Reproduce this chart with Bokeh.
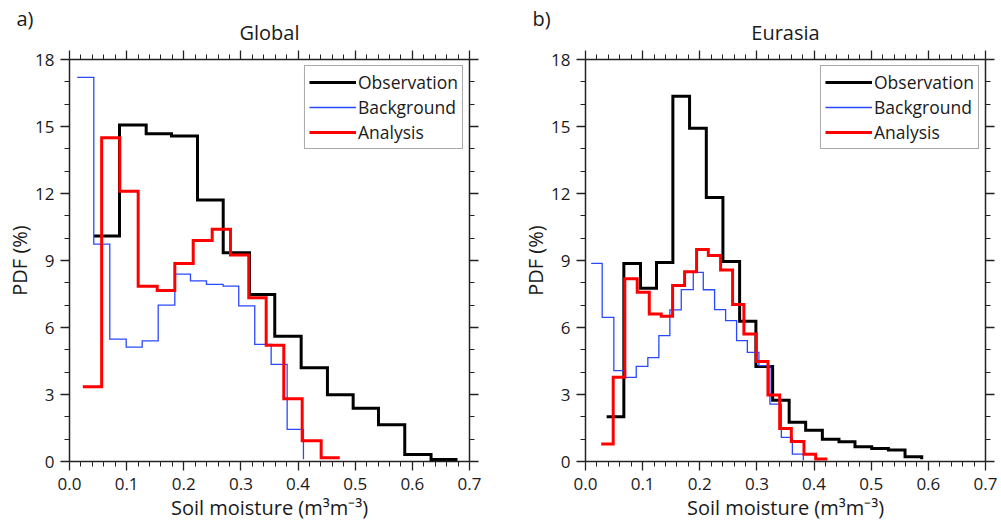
from bokeh.plotting import figure
from bokeh.models import Range1d, LinearAxis, FixedTicker, Legend, LegendItem
from bokeh.layouts import row, column
from bokeh.core.properties import value
from bokeh.embed import file_html
from bokeh.resources import INLINE

# ---------------- data ----------------
x_ticks = [0.0, 0.1, 0.2, 0.3, 0.4, 0.5, 0.6, 0.7]
x_tick_labels = ["0.0", "0.1", "0.2", "0.3", "0.4", "0.5", "0.6", "0.7"]
x_minor = [0.02, 0.04, 0.06, 0.08, 0.12, 0.14, 0.16, 0.18, 0.22, 0.24, 0.26, 0.28,
           0.32, 0.34, 0.36, 0.38, 0.42, 0.44, 0.46, 0.48, 0.52, 0.54, 0.56, 0.58,
           0.62, 0.64, 0.66, 0.68]
y_ticks = [0, 3, 6, 9, 12, 15, 18]
y_tick_labels = ["0", "3", "6", "9", "12", "15", "18"]
y_minor = [1, 2, 4, 5, 7, 8, 10, 11, 13, 14, 16, 17]

series_names = ["Observation", "Background", "Analysis"]
panel_tags = ["a)", "b)"]
panel_titles = ["Global", "Eurasia"]

# Global (bin left edges + final edge, PDF %)
global_obs_x = [0.0425, 0.0875, 0.1342, 0.1785, 0.2240, 0.2690, 0.3150, 0.3592, 0.4054,
                0.4514, 0.4964, 0.5407, 0.5867, 0.6327, 0.6790]
global_obs_y = [10.1, 15.07, 14.68, 14.57, 11.71, 9.35, 7.48, 5.61, 4.2, 2.99, 2.38, 1.65,
                0.31, 0.09, 0.09]
global_bg_x = [0.0135, 0.0425, 0.0705, 0.0992, 0.1272, 0.1552, 0.1843, 0.2117, 0.2397,
               0.2689, 0.2962, 0.3242, 0.3529, 0.3809, 0.4094]
global_bg_y = [17.2, 9.73, 5.48, 5.12, 5.4, 7.0, 8.39, 8.09, 7.93, 7.85, 6.97, 5.24, 4.35,
               1.44, 0.1]
global_an_x = [0.0233, 0.0563, 0.0880, 0.1202, 0.1535, 0.1843, 0.2165, 0.2497, 0.2817,
               0.3137, 0.3442, 0.3750, 0.4072, 0.4404, 0.4730]
global_an_y = [3.35, 14.5, 12.1, 7.85, 7.66, 8.87, 9.9, 10.4, 9.25, 7.33, 5.2, 2.81, 0.93,
               0.17, 0.17]

# Eurasia
eurasia_obs_x = [0.0370, 0.0671, 0.0963, 0.1243, 0.1529, 0.1821, 0.2114, 0.2405, 0.2697,
                 0.2982, 0.3275, 0.3564, 0.3853, 0.4145, 0.4436, 0.4716, 0.5009, 0.5301,
                 0.5592, 0.5884]
eurasia_obs_y = [2.0, 8.87, 7.76, 8.91, 16.35, 14.92, 11.82, 8.96, 6.28, 4.25, 2.74, 1.76,
                 1.4, 1.0, 0.88, 0.66, 0.58, 0.51, 0.21, 0.1]
eurasia_bg_x = [0.0100, 0.0292, 0.0496, 0.0701, 0.0888, 0.1091, 0.1284, 0.1476, 0.1676,
                0.1886, 0.2061, 0.2259, 0.2452, 0.2644, 0.2832, 0.3035, 0.3228, 0.3427,
                0.3620, 0.3812]
eurasia_bg_y = [8.87, 6.45, 4.07, 3.77, 4.26, 4.65, 5.64, 6.79, 7.7, 8.47, 7.69, 6.8, 6.31,
                5.41, 4.89, 4.29, 2.57, 1.08, 0.33, 0.06]
eurasia_an_x = [0.0275, 0.0485, 0.0688, 0.0905, 0.1116, 0.1326, 0.1524, 0.1734, 0.1944,
                0.2149, 0.2364, 0.2574, 0.2772, 0.2989, 0.3193, 0.3398, 0.3602, 0.3823,
                0.4028, 0.4233]
eurasia_an_y = [0.78, 3.77, 8.18, 7.58, 6.61, 6.5, 7.88, 8.5, 9.49, 9.22, 8.57, 7.03, 5.71,
                4.48, 2.98, 1.48, 0.9, 0.33, 0.11, 0.11]

# ---------------- layout / styling ----------------
FONT = "Open Sans"
TXT = "#1a1a1a"
AX = "#222222"
COLORS = ["#000000", "#2a48ff", "#ff0000"]
WIDTHS = [3, 1.3, 3]

STRIP_H = 44          # height of the strip that carries the panel titles
FRAME_W = 400
FRAME_H = 402
BORDER_TOP = 15
BORDER_BOTTOM = 62
PANEL_W = [500, 497]
BORDER_L = [69, 85]
BORDER_R = [31, 12]
TAG_DX = -53          # tag text offset from each frame's left edge (px)

x_over = {t: l for t, l in zip(x_ticks, x_tick_labels)}
y_over = {t: l for t, l in zip(y_ticks, y_tick_labels)}


def style_axis(ax, ticks, minor, overrides, labels=True):
    ax.ticker = FixedTicker(ticks=ticks, minor_ticks=minor)
    ax.axis_line_color = AX
    ax.axis_line_width = 1.5
    ax.major_tick_line_color = AX
    ax.minor_tick_line_color = AX
    ax.major_tick_line_width = 1.3
    ax.minor_tick_line_width = 1.0
    ax.major_tick_in = 0
    ax.major_tick_out = 9
    ax.minor_tick_in = 0
    ax.minor_tick_out = 5
    if labels:
        ax.major_label_overrides = overrides
        ax.major_label_text_font = FONT
        ax.major_label_text_font_size = "17px"
        ax.major_label_text_color = TXT
    else:
        ax.major_label_text_font_size = "1px"
        ax.major_label_text_color = None
        ax.major_label_standoff = 0
        ax.axis_label_standoff = 0


def make_panel(data, width, border_left, border_right):
    p = figure(width=width, height=BORDER_TOP + FRAME_H + BORDER_BOTTOM,
               x_range=Range1d(0, 0.7), y_range=Range1d(0, 18),
               output_backend="svg", toolbar_location=None,
               min_border_left=border_left, min_border_right=border_right,
               min_border_top=BORDER_TOP, min_border_bottom=BORDER_BOTTOM,
               outline_line_color=None)
    p.xgrid.visible = False
    p.ygrid.visible = False

    style_axis(p.xaxis[0], x_ticks, x_minor, x_over)
    style_axis(p.yaxis[0], y_ticks, y_minor, y_over)
    p.xaxis[0].major_label_standoff = 7
    p.yaxis[0].major_label_standoff = 6
    p.xaxis[0].axis_label = "Soil moisture (m³m⁻³)"
    p.yaxis[0].axis_label = "PDF (%)"
    p.xaxis[0].axis_label_standoff = 1
    try:
        p.yaxis[0].axis_label_standoff = -1
    except Exception:
        p.yaxis[0].axis_label_standoff = 0
    for ax in (p.xaxis[0], p.yaxis[0]):
        ax.axis_label_text_font = FONT
        ax.axis_label_text_font_size = "20px"
        ax.axis_label_text_font_style = "normal"
        ax.axis_label_text_color = TXT

    top = LinearAxis()
    style_axis(top, x_ticks, x_minor, x_over, labels=False)
    p.add_layout(top, "above")
    right = LinearAxis()
    style_axis(right, y_ticks, y_minor, y_over, labels=False)
    p.add_layout(right, "right")

    items = []
    for (xs, ys), name, c, w in zip(data, series_names, COLORS, WIDTHS):
        r = p.step(x=xs, y=ys, mode="after", line_color=c, line_width=w, line_join="miter")
        items.append(LegendItem(label=name, renderers=[r]))

    leg = Legend(items=items, location="top_right", margin=6, padding=4, spacing=1,
                 glyph_width=47, glyph_height=20, label_height=20, label_standoff=2,
                 label_text_font=FONT, label_text_font_size="17.5px", label_text_color=TXT,
                 border_line_color="#555555", border_line_width=1.2,
                 background_fill_color="white", background_fill_alpha=1.0)
    p.add_layout(leg)
    return p


p1 = make_panel([(global_obs_x, global_obs_y), (global_bg_x, global_bg_y),
                 (global_an_x, global_an_y)], PANEL_W[0], BORDER_L[0], BORDER_R[0])
p2 = make_panel([(eurasia_obs_x, eurasia_obs_y), (eurasia_bg_x, eurasia_bg_y),
                 (eurasia_an_x, eurasia_an_y)], PANEL_W[1], BORDER_L[1], BORDER_R[1])

# ---- title strip: pixel-unit canvas above both panels ----
total_w = sum(PANEL_W)
strip = figure(width=total_w, height=STRIP_H, x_range=Range1d(0, total_w),
               y_range=Range1d(STRIP_H, 0), x_axis_type=None, y_axis_type=None,
               output_backend="svg", toolbar_location=None, outline_line_color=None,
               min_border_left=0, min_border_right=0, min_border_top=0,
               min_border_bottom=0)
frame_left = [BORDER_L[0], PANEL_W[0] + BORDER_L[1]]
tag_x = [fl + TAG_DX for fl in frame_left]
title_x = [fl + FRAME_W / 2 for fl in frame_left]
strip.text(x=tag_x, y=[18, 18], text=panel_tags, text_align="left",
           text_baseline="middle", text_font=value(FONT), text_font_size=value("20px"),
           text_color=TXT)
strip.text(x=title_x, y=[31.5, 31.5], text=panel_titles, text_align="center",
           text_baseline="middle", text_font=value(FONT), text_font_size=value("20px"),
           text_color=TXT)

layout = column(strip, row(p1, p2))
open("out.html", "w").write(file_html(layout, INLINE))
